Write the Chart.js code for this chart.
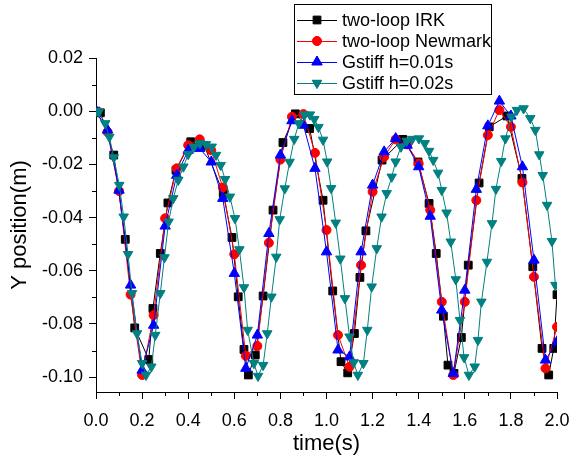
<!DOCTYPE html>
<html lang="en">
<head>
    <meta charset="UTF-8">
    <title>Y position vs time</title>
    <script src="https://cdn.jsdelivr.net/npm/chart.js"></script>
    <style>
        body { margin: 0; background: #fff; }
    </style>
</head>
<body>
    <canvas id="posChart" width="570" height="462"></canvas>
    <script>
// two-loop IRK (variable step)
const tIRK = [0, 0.019, 0.077, 0.127, 0.168, 0.229, 0.247, 0.279, 0.312, 0.347, 0.411, 0.47, 0.552, 0.590, 0.617, 0.642, 0.661, 0.691, 0.725, 0.768, 0.811, 0.865, 0.927, 0.985, 1.027, 1.063, 1.092, 1.121, 1.145, 1.171, 1.241, 1.331, 1.397, 1.445, 1.476, 1.507, 1.527, 1.553, 1.585, 1.615, 1.662, 1.706, 1.783, 1.848, 1.895, 1.935, 1.964, 1.986, 2.0];
const yIRK = [0, -0.0006, -0.0165, -0.0482, -0.0815, -0.0934, -0.0742, -0.0535, -0.0345, -0.0222, -0.0115, -0.0130, -0.0309, -0.0475, -0.0698, -0.0896, -0.0992, -0.0917, -0.0695, -0.0372, -0.0118, -0.0010, -0.0065, -0.0335, -0.0676, -0.0942, -0.0984, -0.0836, -0.0625, -0.0450, -0.0184, -0.0106, -0.0191, -0.0347, -0.0535, -0.0771, -0.0955, -0.0986, -0.0851, -0.0579, -0.0270, -0.0059, -0.0018, -0.0253, -0.0585, -0.0892, -0.0992, -0.0892, -0.0690];

// output times for Newmark and Gstiff h=0.01s
const t05 = [0, 0.05, 0.10, 0.15, 0.20, 0.25, 0.30, 0.35, 0.40, 0.45, 0.50, 0.55, 0.60, 0.65, 0.70, 0.75, 0.80, 0.85, 0.90, 0.95, 1.00, 1.05, 1.10, 1.15, 1.20, 1.25, 1.30, 1.35, 1.40, 1.45, 1.50, 1.55, 1.60, 1.65, 1.70, 1.75, 1.80, 1.85, 1.90, 1.95, 2.00];
const yNewmark = [0, -0.0078, -0.0300, -0.0690, -0.0992, -0.0767, -0.0403, -0.0215, -0.0128, -0.0106, -0.0147, -0.0287, -0.0538, -0.0920, -0.0883, -0.0495, -0.0182, -0.0021, -0.0011, -0.0157, -0.0447, -0.0842, -0.0961, -0.0579, -0.0303, -0.0172, -0.0106, -0.0125, -0.0197, -0.0372, -0.0717, -0.0992, -0.0717, -0.0335, -0.0090, 0.0004, -0.0059, -0.0268, -0.0623, -0.0967, -0.0811];
const yGstiff01 = [0, -0.0071, -0.0297, -0.0654, -0.0974, -0.0805, -0.0432, -0.0241, -0.0147, -0.0140, -0.0191, -0.0328, -0.0610, -0.0967, -0.0842, -0.0460, -0.0165, -0.0036, -0.0053, -0.0215, -0.0529, -0.0898, -0.0924, -0.0529, -0.0278, -0.0153, -0.0103, -0.0128, -0.0209, -0.0395, -0.0748, -0.0986, -0.0673, -0.0294, -0.0055, 0.0038, -0.0018, -0.0209, -0.0560, -0.0936, -0.0867];

// Gstiff h=0.02s
const t02 = [0, 0.012, 0.040, 0.058, 0.077, 0.101, 0.120, 0.139, 0.156, 0.178, 0.200, 0.217, 0.240, 0.257, 0.279, 0.297, 0.315, 0.335, 0.357, 0.379, 0.400, 0.425, 0.451, 0.477, 0.502, 0.521, 0.541, 0.560, 0.581, 0.603, 0.622, 0.642, 0.658, 0.685, 0.703, 0.725, 0.743, 0.761, 0.782, 0.797, 0.819, 0.840, 0.860, 0.880, 0.905, 0.928, 0.947, 0.965, 0.985, 1.003, 1.020, 1.040, 1.060, 1.080, 1.100, 1.118, 1.136, 1.160, 1.177, 1.196, 1.218, 1.239, 1.261, 1.283, 1.300, 1.323, 1.348, 1.372, 1.401, 1.426, 1.445, 1.463, 1.484, 1.500, 1.521, 1.539, 1.561, 1.579, 1.597, 1.618, 1.643, 1.657, 1.672, 1.696, 1.718, 1.735, 1.758, 1.776, 1.802, 1.826, 1.855, 1.884, 1.906, 1.923, 1.938, 1.957, 1.978, 1.993];
const yGstiff02 = [0, -0.0003, -0.0046, -0.0097, -0.0174, -0.0278, -0.0397, -0.0538, -0.0685, -0.0836, -0.0948, -0.0992, -0.0961, -0.0842, -0.0685, -0.0550, -0.0416, -0.0328, -0.0259, -0.0209, -0.0162, -0.0134, -0.0121, -0.0125, -0.0134, -0.0165, -0.0203, -0.0256, -0.0322, -0.0403, -0.0520, -0.0663, -0.0823, -0.0948, -0.0996, -0.0955, -0.0836, -0.0698, -0.0548, -0.0407, -0.0291, -0.0191, -0.0105, -0.0046, -0.0013, -0.0013, -0.0030, -0.0060, -0.0108, -0.0190, -0.0290, -0.0420, -0.0555, -0.0704, -0.0848, -0.0945, -0.0992, -0.0948, -0.0823, -0.0660, -0.0516, -0.0397, -0.0309, -0.0247, -0.0190, -0.0134, -0.0112, -0.0105, -0.0103, -0.0121, -0.0150, -0.0184, -0.0232, -0.0297, -0.0382, -0.0491, -0.0633, -0.0786, -0.0926, -0.0992, -0.0961, -0.0861, -0.0717, -0.0567, -0.0422, -0.0293, -0.0188, -0.0103, -0.0021, 0.0004, 0.0010, -0.0027, -0.0071, -0.0163, -0.0241, -0.0353, -0.0489, -0.0654];

const seriesNames = ['two-loop IRK', 'two-loop Newmark', 'Gstiff h=0.01s', 'Gstiff h=0.02s'];

const FONT = 'Liberation Sans, Arial, sans-serif';

function toPoints(xs, ys) {
  return xs.map((x, i) => ({ x: x, y: ys[i] }));
}

// short minor ticks between the labelled ones
const minorTicks = {
  id: 'minorTicks',
  afterDraw(chart) {
    const ctx = chart.ctx;
    const xs = chart.scales.x, ys = chart.scales.y;
    const area = chart.chartArea;
    ctx.save();
    ctx.strokeStyle = '#000';
    ctx.lineWidth = 1;
    ctx.beginPath();
    for (let v = 0.1; v < 2.0; v += 0.2) {
      const px = Math.round(xs.getPixelForValue(v)) + 0.5;
      ctx.moveTo(px, area.bottom);
      ctx.lineTo(px, area.bottom + 4);
    }
    for (let v = -0.09; v < 0.02; v += 0.02) {
      const py = Math.round(ys.getPixelForValue(v)) + 0.5;
      ctx.moveTo(area.left, py);
      ctx.lineTo(area.left - 4, py);
    }
    ctx.stroke();
    ctx.restore();
  }
};

// boxed legend sitting over the top of the plot
const boxLegend = {
  id: 'boxLegend',
  afterDraw(chart) {
    const ctx = chart.ctx;
    const left = 294, top = 4, w = 197, h = 90;
    ctx.save();
    ctx.fillStyle = '#fff';
    ctx.fillRect(left, top, w, h);
    ctx.strokeStyle = '#000';
    ctx.lineWidth = 1;
    ctx.strokeRect(left + 0.5, top + 0.5, w, h);
    ctx.font = '18px ' + FONT;
    ctx.textBaseline = 'middle';
    chart.data.datasets.forEach((ds, i) => {
      const y = top + 16 + i * 21;
      ctx.strokeStyle = ds.borderColor;
      ctx.beginPath();
      ctx.moveTo(left + 3, y + 0.5);
      ctx.lineTo(left + 43, y + 0.5);
      ctx.stroke();
      Chart.helpers.drawPoint(ctx, {
        pointStyle: ds.pointStyle,
        rotation: ds.pointRotation || 0,
        radius: ds.pointRadius,
        borderWidth: 1
      }, left + 23, y);
      ctx.fillStyle = ds.pointBackgroundColor;
      ctx.fill();
      ctx.fillStyle = '#000';
      ctx.fillText(ds.label, left + 48, y + 1);
    });
    ctx.restore();
  }
};

const ctx = document.getElementById('posChart');
new Chart(ctx, {
  type: 'scatter',
  data: {
    datasets: [
      {
        label: seriesNames[0], data: toPoints(tIRK, yIRK),
        borderColor: '#000000', backgroundColor: '#000000', pointBackgroundColor: '#000000',
        pointStyle: 'rect', pointRadius: 5.5, order: 3
      },
      {
        label: seriesNames[1], data: toPoints(t05, yNewmark),
        borderColor: '#ff0000', backgroundColor: '#ff0000', pointBackgroundColor: '#ff0000',
        pointStyle: 'circle', pointRadius: 4.5, order: 2
      },
      {
        label: seriesNames[2], data: toPoints(t05, yGstiff01),
        borderColor: '#0000ff', backgroundColor: '#0000ff', pointBackgroundColor: '#0000ff',
        pointStyle: 'triangle', pointRadius: 6, order: 1
      },
      {
        label: seriesNames[3], data: toPoints(t02, yGstiff02),
        borderColor: '#008080', backgroundColor: '#008080', pointBackgroundColor: '#008080',
        pointStyle: 'triangle', pointRotation: 180, pointRadius: 5.5, order: 0
      }
    ].map(ds => Object.assign({
      showLine: true, borderWidth: 1, pointBorderWidth: 1,
      pointBorderColor: ds.borderColor, tension: 0
    }, ds))
  },
  options: {
    responsive: false,
    animation: false,
    layout: { padding: { top: 58, right: 0, left: 0, bottom: 0 } },
    plugins: {
      legend: { display: false },
      tooltip: { enabled: false }
    },
    scales: {
      x: {
        type: 'linear', min: 0, max: 2.0,
        afterFit(scale) {
          scale.height = 70;
          scale.paddingLeft = 0;
          scale.paddingRight = 13;
        },
        border: { display: true, color: '#000', width: 1 },
        grid: { drawOnChartArea: false, drawTicks: true, tickLength: 7, tickColor: '#000' },
        ticks: {
          stepSize: 0.2, color: '#000', padding: 11, maxRotation: 0,
          font: { family: FONT, size: 18 },
          callback: v => v.toFixed(1)
        },
        title: {
          display: true, text: 'time(s)', color: '#000',
          font: { family: FONT, size: 22 }, padding: { top: 0, bottom: 5 }
        }
      },
      y: {
        type: 'linear', min: -0.1056, max: 0.02,
        afterFit(scale) { scale.width = 96; },
        border: { display: true, color: '#000', width: 1 },
        grid: { drawOnChartArea: false, drawTicks: true, tickLength: 7, tickColor: '#000' },
        ticks: {
          stepSize: 0.02, includeBounds: false, color: '#000', padding: 6,
          font: { family: FONT, size: 18 },
          callback: v => v.toFixed(2)
        },
        title: {
          display: true, text: 'Y position(m)', color: '#000',
          font: { family: FONT, size: 22 }, padding: { top: 7, bottom: 0 }
        }
      }
    }
  },
  plugins: [minorTicks, boxLegend]
});
    </script>
</body>
</html>
